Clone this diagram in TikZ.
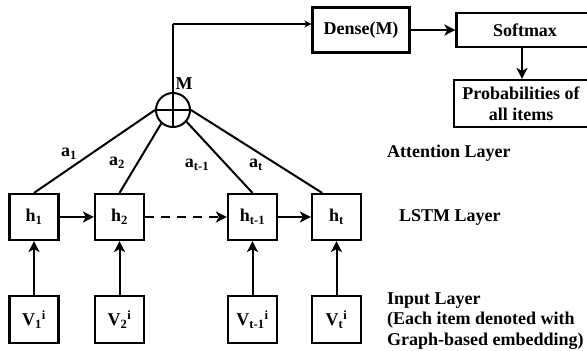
\documentclass[tikz,border=0pt]{standalone}
\usepackage{fontspec}
\setmainfont{Liberation Serif}
\usetikzlibrary{arrows.meta,calc}
\begin{document}
\begin{tikzpicture}[x=1pt,y=-1pt,
  every node/.style={font=\bfseries\fontsize{18}{20.5}\selectfont},
  box/.style={draw, line width=2.2pt, minimum width=49pt, minimum height=46pt, inner sep=0pt},
  link/.style={line width=2pt},
  arr/.style={line width=2pt,-{Stealth[length=11pt,width=11pt,inset=3pt]}},
  smallarr/.style={line width=2pt,-{Stealth[length=7pt,width=7pt,inset=2pt]}},
  lbl/.style={inner sep=0pt}
]
\clip (0,0) rectangle (587,351);

% attention combination
\node[circle, draw, line width=2pt, minimum size=34pt, inner sep=0pt] (M) at (173,110) {};
\draw[link] (M.west) -- (M.east);
\coordinate (turn) at (173,24);

% top boxes
\node[box, minimum width=97pt, minimum height=45pt] (dense) at (361,30) {Dense(M)};
\node[box, minimum width=137pt, minimum height=34pt] (soft) at (525,30) {Softmax};
\node[box, minimum width=134pt, minimum height=47pt, align=center] (prob) at (521,103.5) {Probabilities of\\all items};

% LSTM layer
\node[box] (h1) at (34,217) {h\textsubscript{1}};
\node[box] (h2) at (119.5,217) {h\textsubscript{2}};
\node[box] (h3) at (252.5,217) {h\textsubscript{t-1}};
\node[box] (h4) at (336.5,217) {h\textsubscript{t}};

% input layer
\node[box, minimum height=47pt] (v1) at (34,319.5) {V\textsubscript{1}\textsuperscript{i}};
\node[box, minimum height=47pt] (v2) at (119.5,319.5) {V\textsubscript{2}\textsuperscript{i}};
\node[box, minimum height=47pt] (v3) at (252.5,319.5) {V\textsubscript{t-1}\textsuperscript{i}};
\node[box, minimum height=47pt] (v4) at (336.5,319.5) {V\textsubscript{t}\textsuperscript{i}};

% connectors
\draw[link] (M.south) -- (turn);
\draw[smallarr] (turn) -- (turn -| dense.west);
\draw[arr] (dense.east) -- (soft.west |- dense.east);
\draw[arr] (soft.south -| 522,0) -- (prob.north -| 522,0);

\draw[link] (M.west) -- (h1.north);
\draw[link] (M.-131) -- (h2.north);
\draw[link] (M.-41) -- (h3.north);
\draw[link] (M.east) -- ($(h4.north west)!0.22!(h4.north east)$);

\draw[arr] (h1.east) -- (h2.west);
\draw[arr, dash pattern=on 9pt off 7pt] (h2.east) -- (h3.west);
\draw[arr] (h3.east) -- (h4.west);

\draw[arr] (v1.north) -- (h1.south);
\draw[arr] (v2.north) -- (h2.south);
\draw[arr] (v3.north) -- (h3.south);
\draw[arr] (v4.north) -- (h4.south);

% labels
\node[lbl] (lM) at (184,83.5) {M};
\node[lbl] (la1) at (69,154) {a\textsubscript{1}};
\node[lbl] (la2) at (117,163) {a\textsubscript{2}};
\node[lbl] (la3) at (197,165) {a\textsubscript{t-1}};
\node[lbl] (la4) at (256,165) {a\textsubscript{t}};

\node[lbl, anchor=base west] (att) at (387,157) {Attention Layer};
\node[lbl, anchor=base west] (lstm) at (399,221) {LSTM Layer};
\node[lbl, anchor=base west] (in1) at (387,304) {Input Layer};
\node[lbl, anchor=base west] (in2) at (387,324.5) {(Each item denoted with};
\node[lbl, anchor=base west] (in3) at (387,345) {Graph-based embedding)};
\end{tikzpicture}
\end{document}
